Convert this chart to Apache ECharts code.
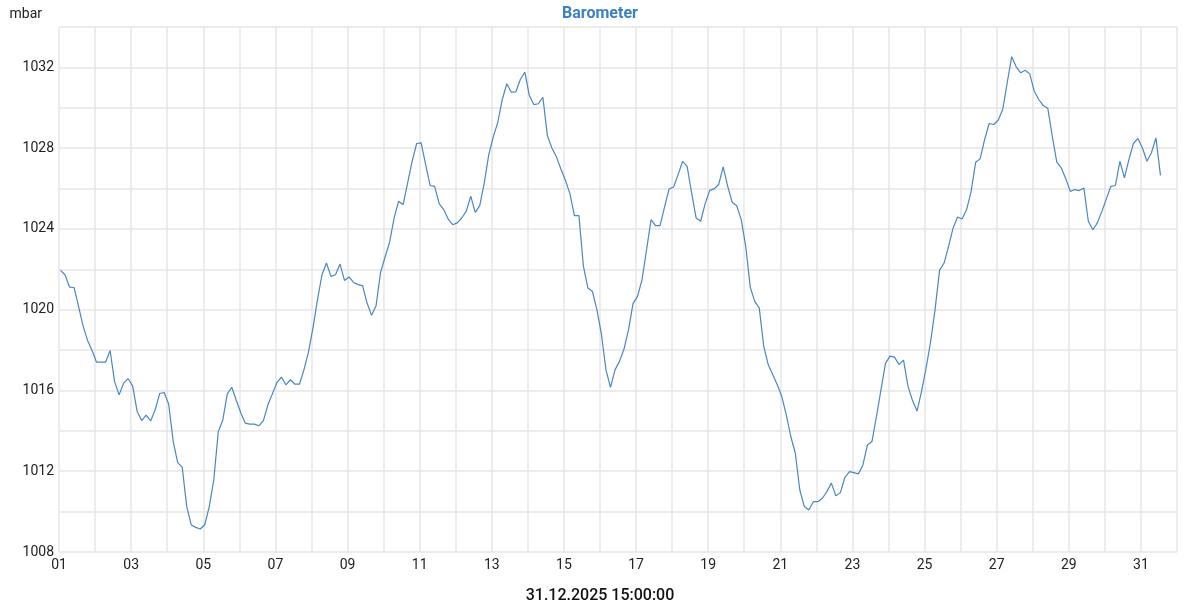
<!DOCTYPE html>
<html>
<head>
<meta charset="utf-8">
<script src="https://cdn.jsdelivr.net/npm/echarts@6/dist/echarts.min.js"></script>
<style>html,body{margin:0;padding:0;background:#fff}#c{width:1200px;height:600px}</style>
</head>
<body>
<div id="c"></div>
<script>
// 3-hourly readings starting 01.12.2025 01:00
var startHour = 1;       // hour of first reading on day 01
var stepHours = 3;
var pressure = [
1021.95,1021.73,1021.12,1021.1,1020.16,1019.2,1018.48,1017.98,1017.4,1017.4,1017.4,1017.98,1016.44,1015.78,1016.36,1016.59,1016.23,1014.96,1014.51,1014.78,1014.49,1015.04,1015.85,1015.9,1015.32,
1013.47,1012.43,1012.2,1010.25,1009.34,1009.22,1009.14,1009.35,1010.25,1011.57,1013.96,1014.54,1015.83,1016.16,1015.5,1014.88,1014.38,1014.33,1014.33,1014.25,1014.51,1015.29,1015.83,1016.39,1016.66,1016.28,1016.53,1016.31,1016.31,1017.02,
1017.9,1019.09,1020.49,1021.73,1022.31,1021.65,1021.73,1022.26,1021.45,1021.62,1021.35,1021.24,1021.19,1020.33,1019.72,1020.2,1021.85,1022.61,1023.34,1024.54,1025.37,1025.2,
1026.28,1027.35,1028.23,1028.26,1027.19,1026.15,1026.11,1025.25,1024.96,1024.49,1024.21,1024.3,1024.54,1024.87,1025.62,1024.82,1025.15,1026.28,1027.68,1028.56,1029.28,1030.41,1031.19,1030.77,1030.79,1031.4,1031.76,1030.61,1030.16,1030.2,1030.52,1028.62,1028.01,1027.57,1026.97,1026.41,1025.75,1024.66,1024.66,
1022.14,1021.07,1020.9,1019.99,1018.76,1017.02,1016.15,1017.02,1017.44,1018.05,1019.01,1020.3,1020.66,1021.49,1022.97,1024.46,1024.16,1024.16,1025.09,1025.98,1026.08,1026.69,1027.35,1027.1,1025.78,1024.54,1024.38,1025.25,1025.91,1025.98,1026.2,1027.07,1026.11,1025.32,1025.15,1024.46,1023.14,1021.12,1020.41,1020.08,
1018.18,1017.27,1016.78,1016.28,1015.7,1014.79,1013.72,1012.89,1011.07,1010.25,1010.08,1010.49,1010.49,1010.66,1010.99,1011.41,1010.78,1010.94,1011.7,1011.98,1011.93,1011.87,1012.31,1013.3,1013.47,1014.71,1016.03,1017.34,1017.7,1017.65,1017.28,1017.5,1016.2,1015.5,1014.98,1015.95,1017.1,1018.4,1020.0,1021.96,
1022.31,1023.14,1024.05,1024.59,1024.49,1024.96,1025.86,1027.3,1027.47,1028.43,1029.22,1029.17,1029.38,1029.91,1031.24,1032.53,1032.03,1031.73,1031.86,1031.68,1030.82,1030.41,1030.11,1029.98,1028.59,1027.31,1027.02,1026.48,1025.86,1025.95,1025.9,1026.03,1024.38,1023.96,1024.3,1024.87,1025.49,1026.11,1026.15,1027.35,1026.53,1027.43,1028.23,1028.48,1028.01,1027.35,1027.77,1028.51,1026.65
];
var titleText = 'Barometer';
var unitText = 'mbar';
var stampText = '31.12.2025 15:00:00';

var seriesData = pressure.map(function (v, i) {
  return [1 + (startHour + i * stepHours) / 24, v];
});

var chart = echarts.init(document.getElementById('c'), null, {renderer: 'canvas'});
var font = 'Roboto, "Noto Sans", sans-serif';
chart.setOption({
  animation: false,
  backgroundColor: '#ffffff',
  textStyle: {fontFamily: font},
  title: [
    {text: titleText, left: 'center', top: 1,
     textStyle: {color: '#3b7fc4', fontSize: 16, fontWeight: 'bold', fontFamily: font}},
    {text: stampText, left: 'center', top: 583,
     textStyle: {color: '#111111', fontSize: 16, fontWeight: 500, fontFamily: font}}
  ],
  grid: {left: 59, right: 23, top: 27, bottom: 48, containLabel: false},
  xAxis: {
    type: 'value', min: 1, max: 32, interval: 1,
    axisLine: {show: false}, axisTick: {show: false},
    splitLine: {show: true, lineStyle: {color: '#e6e6e6', width: 1.5}},
    axisLabel: {
      color: '#222', fontSize: 14, margin: 6, fontFamily: font,
      formatter: function (v) { return (v % 2 === 1 && v < 32) ? (v < 10 ? '0' + v : '' + v) : ''; }
    }
  },
  yAxis: {
    type: 'value', min: 1008, max: 1034, interval: 2,
    name: unitText, nameLocation: 'end', nameGap: 0,
    nameTextStyle: {color: '#222', fontSize: 14, align: 'right', verticalAlign: 'bottom', padding: [0, 17, 6, 0], fontFamily: font},
    axisLine: {show: false}, axisTick: {show: false},
    splitLine: {show: true, lineStyle: {color: '#e6e6e6', width: 1.5}},
    axisLabel: {
      color: '#222', fontSize: 14, margin: 5, fontFamily: font,
      formatter: function (v) { return ((v - 1008) % 4 === 0 && v < 1034) ? '' + v : ''; }
    }
  },
  series: [{
    type: 'line', data: seriesData, showSymbol: false, smooth: false,
    lineStyle: {color: '#4a86c0', width: 1.2},
    itemStyle: {color: '#4a86c0'}
  }]
});
</script>
</body>
</html>
